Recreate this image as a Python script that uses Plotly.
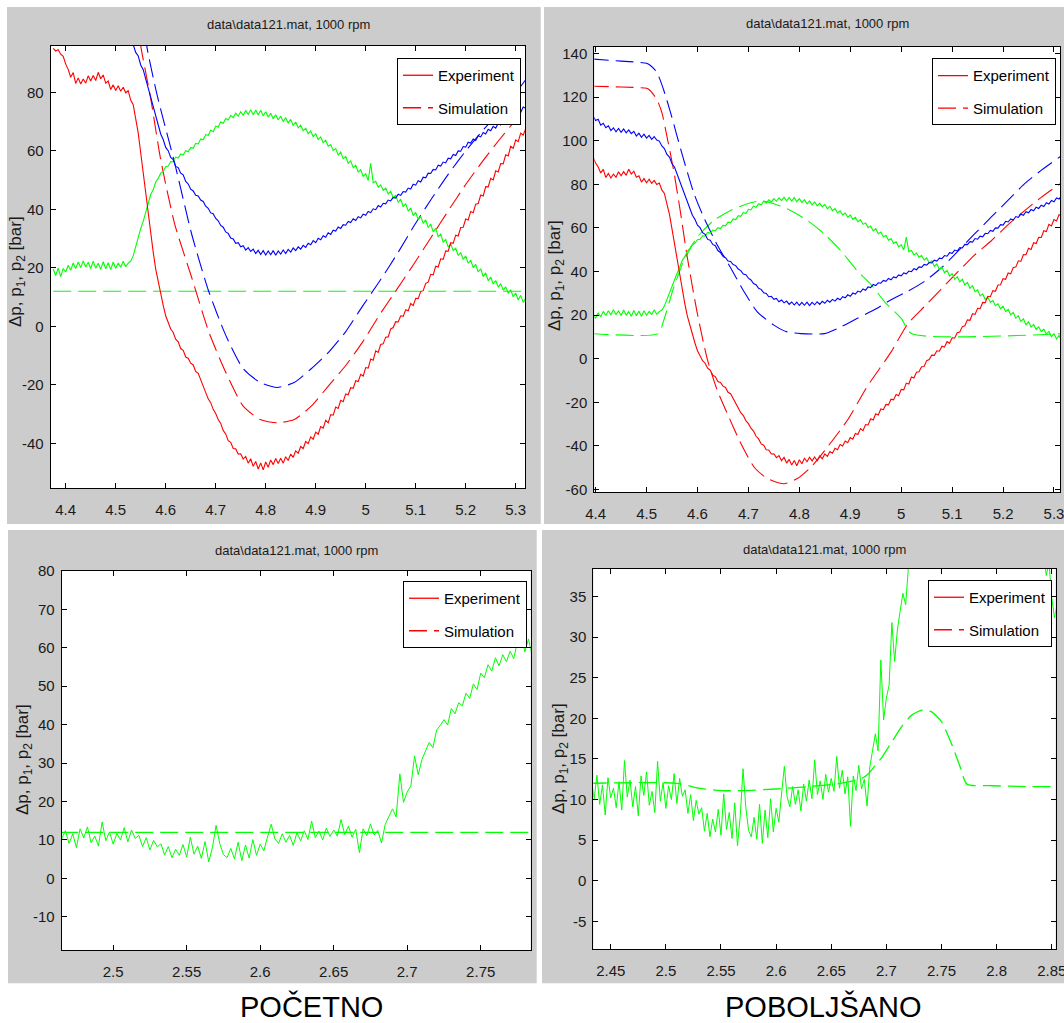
import numpy as np
import plotly.graph_objects as go

W, H = 1064, 1023
FONT = "Liberation Sans Narrow, Arial Narrow, Liberation Sans, Arial, sans-serif"

# ---------------- experimental data (shared by both variants) ----------------
TOP_T0, TOP_DT = 4.375, 0.005
red_exp = [
    95.1, 94.2, 94.6, 93.1, 92.4, 89.7, 87.9, 85.2, 86.8, 83.1, 85.0, 82.9, 84.6, 83.2, 85.7, 83.9,
    85.8, 84.1, 86.9, 84.7, 86.0, 83.2, 83.9, 81.0, 82.6, 80.7, 82.3, 80.4, 81.8, 79.9, 80.6, 77.4,
    75.8, 71.5, 66.2, 59.4, 52.6, 44.8, 38.1, 30.9, 25.4, 19.6, 15.3, 10.8, 7.2, 3.6, 1.4, -0.9,
    -2.1, -4.4, -5.3, -7.6, -8.2, -10.5, -10.9, -12.6, -13.2, -15.4, -16.1, -18.3, -20.9, -22.7, -24.8, -26.1,
    -28.4, -29.8, -31.9, -33.2, -35.6, -36.8, -39.1, -39.7, -41.8, -41.9, -43.7, -43.6, -45.4, -44.5, -46.8, -45.3,
    -47.9, -46.2, -48.8, -46.7, -49.1, -46.4, -48.2, -45.7, -47.3, -45.2, -46.9, -45.1, -46.8, -44.6, -45.9, -43.7,
    -44.8, -42.6, -43.4, -41.1, -41.8, -39.4, -40.1, -37.8, -38.6, -36.2, -36.9, -34.3, -34.8, -32.1, -33.0, -30.2,
    -30.4, -27.6, -28.1, -25.3, -25.8, -23.1, -23.4, -21.0, -21.2, -18.6, -18.9, -16.4, -17.0, -14.1, -14.3, -11.2,
    -11.6, -8.4, -8.9, -6.2, -6.0, -3.7, -3.6, -0.9, -0.4, 1.6, 1.5, 3.6, 3.4, 5.7, 5.3, 7.8,
    7.1, 9.6, 9.5, 11.9, 12.2, 14.7, 15.1, 17.8, 17.6, 20.6, 20.3, 23.1, 22.9, 25.8, 25.7, 28.6,
    28.4, 31.2, 30.9, 33.8, 33.9, 36.7, 36.4, 39.3, 38.9, 41.8, 42.0, 44.9, 44.6, 47.8, 47.7, 50.6,
    50.1, 53.2, 52.8, 55.7, 55.6, 58.7, 58.3, 61.6, 60.9, 63.8, 63.2, 66.1, 65.4, 67.6,
]
blue_exp = [
    113.2, 111.5, 112.6, 110.4, 111.3, 109.2, 109.8, 107.1, 108.0, 105.9, 106.8, 104.6, 105.9, 104.1, 105.6, 103.8,
    105.4, 103.6, 104.9, 103.2, 104.3, 102.1, 103.4, 101.5, 103.0, 101.2, 102.4, 100.6, 101.9, 100.3, 99.8, 97.6,
    96.4, 93.7, 92.5, 89.4, 87.8, 84.6, 82.3, 78.7, 75.8, 71.9, 69.1, 65.8, 63.9, 61.2, 60.1, 57.8,
    57.0, 54.7, 54.3, 52.4, 51.8, 49.6, 48.7, 46.9, 46.3, 44.8, 44.6, 43.2, 42.7, 41.1, 40.4, 38.8,
    38.5, 36.9, 36.1, 34.5, 33.9, 32.3, 31.8, 30.2, 29.9, 28.4, 28.6, 27.2, 27.6, 26.1, 26.9, 25.6,
    26.4, 24.9, 26.0, 24.6, 25.9, 24.4, 25.8, 24.5, 25.9, 24.3, 25.8, 24.7, 26.1, 24.9, 26.3, 25.4,
    26.8, 25.9, 27.2, 26.4, 27.7, 27.0, 28.4, 27.9, 29.3, 28.6, 30.1, 29.6, 31.0, 30.5, 32.0, 31.4,
    32.9, 32.6, 34.0, 33.5, 34.8, 34.6, 35.9, 35.5, 36.8, 36.2, 37.5, 37.1, 38.4, 38.0, 39.3, 38.9,
    40.2, 39.9, 41.3, 40.8, 42.1, 41.9, 43.2, 42.9, 44.1, 43.9, 45.2, 44.8, 46.1, 45.9, 47.3, 47.0,
    48.6, 48.3, 49.8, 49.4, 51.0, 50.8, 52.4, 52.3, 53.7, 53.5, 55.1, 54.8, 56.2, 55.9, 57.5, 57.3,
    58.8, 58.4, 60.0, 59.9, 61.5, 61.3, 63.0, 62.7, 64.1, 63.6, 65.2, 64.8, 66.3, 65.8, 67.4, 66.9,
    68.4, 67.8, 69.5, 68.9, 70.4, 69.8, 71.5, 70.9, 72.6, 72.0, 73.7, 73.2, 75.0, 74.6,
]
green_exp = [
    19.6, 17.4, 19.9, 17.0, 19.8, 18.6, 20.9, 19.2, 21.7, 19.8, 22.0, 20.1, 22.4, 20.3, 21.9, 19.8,
    22.3, 19.9, 21.6, 19.5, 22.1, 19.7, 21.8, 19.4, 22.0, 19.9, 21.7, 20.2, 22.3, 20.4, 21.6, 22.3,
    24.1, 27.3, 29.8, 33.4, 35.9, 39.2, 41.8, 45.1, 46.7, 49.3, 50.6, 52.4, 52.9, 54.6, 54.8, 56.4,
    56.3, 57.9, 57.6, 59.0, 58.6, 60.1, 59.7, 61.2, 60.9, 62.6, 62.4, 64.1, 63.8, 65.6, 65.3, 67.1,
    66.6, 68.5, 68.2, 70.0, 69.4, 71.1, 70.6, 72.2, 71.4, 72.9, 71.9, 73.4, 72.2, 73.8, 72.5, 74.1,
    72.4, 74.0, 72.3, 73.9, 72.0, 73.4, 71.6, 72.9, 71.0, 72.4, 70.6, 71.9, 70.1, 71.3, 69.6, 70.8,
    68.7, 69.9, 67.9, 68.8, 66.9, 67.8, 65.9, 66.8, 64.9, 65.9, 63.9, 64.8, 62.8, 63.7, 61.6, 62.2,
    60.1, 60.8, 58.6, 59.6, 57.3, 58.1, 55.8, 56.6, 54.3, 55.1, 52.8, 53.6, 51.3, 52.2, 49.9, 55.8,
    49.1, 49.6, 47.6, 48.4, 46.5, 47.3, 45.3, 46.2, 43.9, 44.9, 42.4, 43.5, 40.9, 42.0, 39.4, 40.5,
    37.9, 39.0, 36.4, 37.6, 35.2, 36.4, 33.8, 35.0, 32.3, 33.5, 30.7, 31.6, 28.8, 29.7, 27.1, 28.2,
    25.9, 26.7, 24.3, 25.2, 22.9, 24.1, 21.6, 22.6, 20.1, 21.2, 18.6, 19.7, 17.0, 18.3, 15.6, 16.9,
    14.5, 15.7, 13.4, 14.6, 12.4, 13.5, 11.3, 12.5, 10.1, 11.4, 9.0, 10.6, 8.2, 9.6,
]

BOT_T0, BOT_DT = 2.43, 0.0025
green_exp_bottom = [
    9.6, 12.3, 10.1, 13.0, 9.4, 11.8, 8.1, 12.7, 10.2, 11.4, 9.0, 12.2, 8.7, 14.8, 10.3, 12.4,
    9.1, 11.6, 8.0, 12.9, 10.5, 13.4, 9.3, 11.0, 8.4, 14.7, 9.8, 12.1, 8.9, 11.7, 10.0, 13.2,
    9.5, 12.6, 10.4, 11.2, 8.3, 10.6, 7.4, 9.9, 8.2, 9.0, 6.1, 8.3, 5.4, 7.6, 6.0, 8.8,
    5.6, 10.7, 6.3, 8.4, 5.2, 9.6, 4.3, 8.0, 13.8, 9.1, 6.2, 5.4, 7.8, 5.1, 9.4, 4.6,
    8.7, 5.3, 10.1, 6.0, 8.9, 7.2, 10.8, 14.1, 10.3, 9.1, 11.6, 9.4, 11.2, 8.6, 11.9, 9.8,
    12.4, 10.1, 14.9, 10.6, 12.3, 10.0, 13.1, 10.9, 12.6, 11.0, 15.3, 11.4, 13.6, 10.7, 12.8, 6.7,
    12.9, 11.1, 14.2, 11.3, 12.5, 9.2, 14.0, 16.3, 18.1, 16.0, 27.2, 19.8, 22.5, 24.1, 31.8, 27.0,
    30.9, 33.2, 35.4, 34.0, 38.6, 39.8, 41.3, 39.9, 44.2, 42.8, 45.7, 44.9, 48.2, 46.8, 50.6, 49.1,
    53.4, 52.2, 55.6, 53.9, 57.4, 55.3, 58.2, 56.4, 59.1, 57.2, 61.8, 64.0, 58.9, 62.3, 57.8, 63.1,
    65.0, 63.8, 66.4, 65.7, 67.2, 66.6, 66.0, 65.3, 64.1, 62.9, 61.2, 59.8, 58.1, 56.0, 54.2, 52.1,
    50.3, 48.0, 46.2, 44.1, 42.3, 40.8, 37.6, 39.2, 34.9, 32.4, 34.1,
]

# ---------------- simulation: initial model (POČETNO) ----------------
sim0_red_t = [4.375, 4.50, 4.53, 4.545, 4.55, 4.57, 4.59, 4.618, 4.652, 4.686, 4.72, 4.755, 4.789,
              4.823, 4.857, 4.891, 4.926, 4.96, 4.994, 5.028, 5.063, 5.097, 5.131, 5.165, 5.2,
              5.234, 5.268, 5.302, 5.32]
sim0_red = [125, 124, 120, 104, 96, 78, 57, 35, 16.7, -1.8, -15.7, -27.3, -31.9,
            -33.0, -31.9, -27.3, -20.3, -13.4, -5.3, 4.0, 12.8, 21.5, 30.5, 39.5, 48.5,
            56.5, 64.0, 71.0, 74.6]
sim0_blue_t = [4.375, 4.50, 4.53, 4.55, 4.562, 4.583, 4.618, 4.652, 4.686, 4.72, 4.755, 4.789,
               4.823, 4.857, 4.891, 4.926, 4.96, 4.994, 5.028, 5.063, 5.097, 5.131, 5.165,
               5.2, 5.234, 5.268, 5.302, 5.32]
sim0_blue = [137, 135, 131, 114, 96, 79, 55.8, 31.5, 12.0, -3.0, -14.5, -19.2,
             -20.9, -19.2, -14.5, -8.8, -1.8, 7.0, 15.5, 24.8, 34.5, 43.5, 52.0,
             60.0, 67.0, 73.4, 80.3, 84.4]
sim0_green_t = [4.375, 5.32]
sim0_green = [12.0, 12.0]
sim0_green_bot_t = [2.43, 2.855]
sim0_green_bot = [12.0, 12.0]

# ---------------- simulation: improved model (POBOLJŠANO) ----------------
sim1_red_t = [4.39, 4.45, 4.50, 4.507, 4.52, 4.53, 4.54, 4.553, 4.566, 4.579, 4.599, 4.619, 4.638,
              4.658, 4.685, 4.711, 4.737, 4.77, 4.796, 4.823, 4.856, 4.895, 4.934, 4.98, 5.013,
              5.046, 5.079, 5.112, 5.144, 5.177, 5.21, 5.243, 5.276, 5.32]
sim1_red = [125.0, 124.6, 124.0, 123.0, 119.0, 113.0, 102.0, 86.6, 68.0, 47.9, 21.6, 0.0, -14.0,
            -24.9, -38.8, -49.7, -55.0, -57.4, -55.0, -49.7, -40.3, -28.0, -12.5, 3.0, 16.0,
            24.0, 32.0, 40.0, 47.5, 54.1, 61.5, 68.0, 74.2, 81.5]
sim1_blue_t = [4.39, 4.45, 4.50, 4.507, 4.52, 4.533, 4.547, 4.56, 4.573, 4.593, 4.612, 4.638, 4.665,
               4.691, 4.717, 4.75, 4.776, 4.803, 4.849, 4.882, 4.914, 4.947, 4.98, 5.013, 5.046,
               5.079, 5.112, 5.144, 5.177, 5.21, 5.243, 5.276, 5.32]
sim1_blue = [137.5, 136.5, 135.5, 134.6, 131.5, 123.7, 113.0, 102.0, 91.2, 75.8, 65.0, 52.5, 41.7,
             30.9, 21.6, 15.4, 12.3, 11.5, 11.5, 14.6, 18.5, 22.4, 27.0, 30.9, 35.5,
             41.7, 49.4, 57.2, 65.0, 72.7, 80.4, 86.6, 94.0]
sim1_green_t = [4.39, 4.523, 4.533, 4.553, 4.573, 4.599, 4.632, 4.665, 4.698, 4.724, 4.75, 4.783,
                4.816, 4.849, 4.882, 4.914, 4.941, 4.967, 5.0, 5.02, 5.32]
sim1_green = [11.5, 11.5, 17.0, 32.4, 44.8, 55.6, 63.4, 68.0, 71.1, 72.4, 71.1, 68.0,
              63.4, 57.2, 49.4, 40.2, 34.0, 26.2, 18.5, 11.5, 11.5]
sim1_green_bot_t = [2.43, 2.51, 2.53, 2.55, 2.57, 2.60, 2.63, 2.654, 2.678, 2.684, 2.69, 2.696,
                    2.705, 2.714, 2.723, 2.732, 2.741, 2.75, 2.759, 2.767, 2.773, 2.796, 2.826, 2.855]
sim1_green_bot = [12.0, 12.0, 11.4, 11.1, 11.1, 11.3, 11.6, 11.9, 12.6, 13.2, 14.2, 15.2,
                  17.1, 19.0, 20.4, 21.0, 20.8, 19.6, 16.9, 14.0, 11.9, 11.7, 11.6, 11.6]

# ---------------- texts and ticks ----------------
panel_title = "data\\data121.mat, 1000 rpm"
y_title = "\u0394p, p<sub>1</sub>, p<sub>2</sub> [bar]"
legend_labels = ["Experiment", "Simulation"]
captions = ["POČETNO", "POBOLJŠANO"]

top_xticks = [4.4, 4.5, 4.6, 4.7, 4.8, 4.9, 5.0, 5.1, 5.2, 5.3]
tl_yticks = [-40, -20, 0, 20, 40, 60, 80]
tr_yticks = [-60, -40, -20, 0, 20, 40, 60, 80, 100, 120, 140]
bl_xticks = [2.5, 2.55, 2.6, 2.65, 2.7, 2.75]
bl_yticks = [-10, 0, 10, 20, 30, 40, 50, 60, 70, 80]
br_xticks = [2.45, 2.5, 2.55, 2.6, 2.65, 2.7, 2.75, 2.8, 2.85]
br_yticks = [-5, 0, 5, 10, 15, 20, 25, 30, 35]

RED, BLUE, GREEN = "#ff0000", "#0000ff", "#00ff00"
DASH = "18px,7px"

top_t = np.round(TOP_T0 + TOP_DT * np.arange(len(red_exp)), 4)
top_tb = np.round(TOP_T0 + TOP_DT * np.arange(len(blue_exp)), 4)
top_tg = np.round(TOP_T0 + TOP_DT * np.arange(len(green_exp)), 4)
bot_t = np.round(BOT_T0 + BOT_DT * np.arange(len(green_exp_bottom)), 5)

fig = go.Figure()


def line(x, y, color, dash, k, width=1.1):
    fig.add_trace(go.Scatter(
        x=x, y=y, mode="lines", xaxis="x" + k, yaxis="y" + k,
        line=dict(color=color, width=width, dash=dash,
                  shape="spline" if dash else "linear", smoothing=0.6),
        showlegend=False, hoverinfo="skip"))


# top-left (initial)
line(sim0_green_t, sim0_green, GREEN, DASH, "")
line(sim0_blue_t, sim0_blue, BLUE, DASH, "")
line(sim0_red_t, sim0_red, RED, DASH, "")
line(top_tg, green_exp, GREEN, None, "")
line(top_tb, blue_exp, BLUE, None, "")
line(top_t, red_exp, RED, None, "")
# top-right (improved)
line(sim1_green_t, sim1_green, GREEN, DASH, "2")
line(sim1_blue_t, sim1_blue, BLUE, DASH, "2")
line(sim1_red_t, sim1_red, RED, DASH, "2")
line(top_tg, green_exp, GREEN, None, "2")
line(top_tb, blue_exp, BLUE, None, "2")
line(top_t, red_exp, RED, None, "2")
# bottom-left (initial)
line(sim0_green_bot_t, sim0_green_bot, GREEN, DASH, "3", 1.3)
line(bot_t, green_exp_bottom, GREEN, None, "3", 1.0)
# bottom-right (improved)
line(sim1_green_bot_t, sim1_green_bot, GREEN, DASH, "4", 1.3)
line(bot_t, green_exp_bottom, GREEN, None, "4", 1.0)

# legend entries, one legend per panel
legend_names = ["legend", "legend2", "legend3", "legend4"]
for i, k in enumerate(["", "2", "3", "4"]):
    for j, (lab, dash) in enumerate(zip(legend_labels, [None, DASH])):
        fig.add_trace(go.Scatter(
            x=[None], y=[None], mode="lines", xaxis="x" + k, yaxis="y" + k,
            line=dict(color=RED, width=1.3, dash=dash), name=lab,
            legend=legend_names[i], legendgroup=f"g{i}{j}", showlegend=True))


def dx(p):
    return p / W


def dy(p):
    return 1 - p / H


def fmt(v):
    return f"{v:g}"


def axis(domain, rng, ticks, anchor, standoff):
    return dict(domain=domain, range=rng, tickmode="array", tickvals=ticks,
                ticktext=[fmt(v) for v in ticks], ticks="inside", ticklen=5, tickwidth=1,
                tickcolor="black", showline=True, linecolor="black", linewidth=1,
                mirror="ticks", showgrid=False, zeroline=False, anchor=anchor,
                automargin=False, ticklabelstandoff=standoff, ticklabeloverflow="allow",
                tickfont=dict(family=FONT, size=15, color="#1a1a1a"), fixedrange=True)


panels = {
    # key: (left, right, top, bottom) in pixels
    "": (50.7, 525.0, 45.7, 488.3),
    "2": (594.3, 1060.0, 46.7, 492.3),
    "3": (61.7, 530.7, 570.7, 950.3),
    "4": (593.3, 1055.7, 569.0, 949.3),
}
ranges = {
    "": ([4.37, 5.3186], [-55.4, 96.0], top_xticks, tl_yticks),
    "2": ([4.3974, 5.3118], [-61.3, 143.1], top_xticks, tr_yticks),
    "3": ([2.465, 2.784], [-18.7, 80.05], bl_xticks, bl_yticks),
    "4": ([2.4342, 2.8536], [-8.45, 38.4], br_xticks, br_yticks),
}

layout = dict(width=W, height=H, autosize=False, margin=dict(l=0, r=0, t=0, b=0, autoexpand=False),
              paper_bgcolor="white", plot_bgcolor="white", showlegend=True)

for k, (l, r, t, b) in panels.items():
    xr, yr, xt, yt = ranges[k]
    layout["xaxis" + k] = axis([dx(l), dx(r)], xr, xt, "y" + k, 8)
    layout["yaxis" + k] = axis([dy(b), dy(t)], yr, yt, "x" + k, 3)

shapes = []
gray_boxes = [(7, 540.7, 7, 524), (544, 1064, 7, 524), (8, 536.7, 530, 983.3), (542, 1064, 530, 983.3)]
for (x0, x1, y0, y1) in gray_boxes:
    shapes.append(dict(type="rect", xref="paper", yref="paper", x0=dx(x0), x1=dx(x1),
                       y0=dy(y1), y1=dy(y0), fillcolor="#cccccc", line=dict(width=0), layer="below"))
for (l, r, t, b) in panels.values():
    shapes.append(dict(type="rect", xref="paper", yref="paper", x0=dx(l), x1=dx(r),
                       y0=dy(b), y1=dy(t), fillcolor="white", line=dict(width=0), layer="below"))
layout["shapes"] = shapes

legend_pos = [(521, 58), (1056, 58.3), (527, 581), (1052, 580)]
for name, (lx, ly) in zip(legend_names, legend_pos):
    layout[name] = dict(x=dx(lx), y=dy(ly), xanchor="right", yanchor="top", xref="paper",
                        yref="paper", bgcolor="white", bordercolor="black", borderwidth=1,
                        font=dict(family=FONT, size=15, color="black"),
                        traceorder="grouped", tracegroupgap=10, itemclick=False,
                        itemdoubleclick=False)

ann = []
title_pos = [(288, 25), (827, 24), (296, 550), (824.5, 549.5)]
for (tx, ty) in title_pos:
    ann.append(dict(text=panel_title, x=dx(tx), y=dy(ty), xref="paper", yref="paper",
                    xanchor="center", yanchor="middle", showarrow=False,
                    font=dict(family=FONT, size=13, color="#1a1a1a")))
ylab_pos = [(17, 272), (556, 276), (24, 760), (560, 759)]
for (tx, ty) in ylab_pos:
    ann.append(dict(text=y_title, x=dx(tx), y=dy(ty), xref="paper", yref="paper",
                    xanchor="center", yanchor="middle", textangle=-90, showarrow=False,
                    font=dict(family=FONT, size=17, color="#1a1a1a")))
for cap, cx in zip(captions, [311, 823]):
    ann.append(dict(text=cap, x=dx(cx), y=dy(1006), xref="paper", yref="paper",
                    xanchor="center", yanchor="middle", showarrow=False,
                    font=dict(family="Liberation Sans, Arial, sans-serif", size=29, color="black")))
layout["annotations"] = ann

fig.update_layout(**layout)
fig.write_html(
    "out.html",
    config={"displayModeBar": False},
    post_script="document.body.style.margin='0';document.body.style.padding='0';"
                "document.body.style.overflow='hidden';"
                "document.documentElement.style.overflow='hidden';",
)
